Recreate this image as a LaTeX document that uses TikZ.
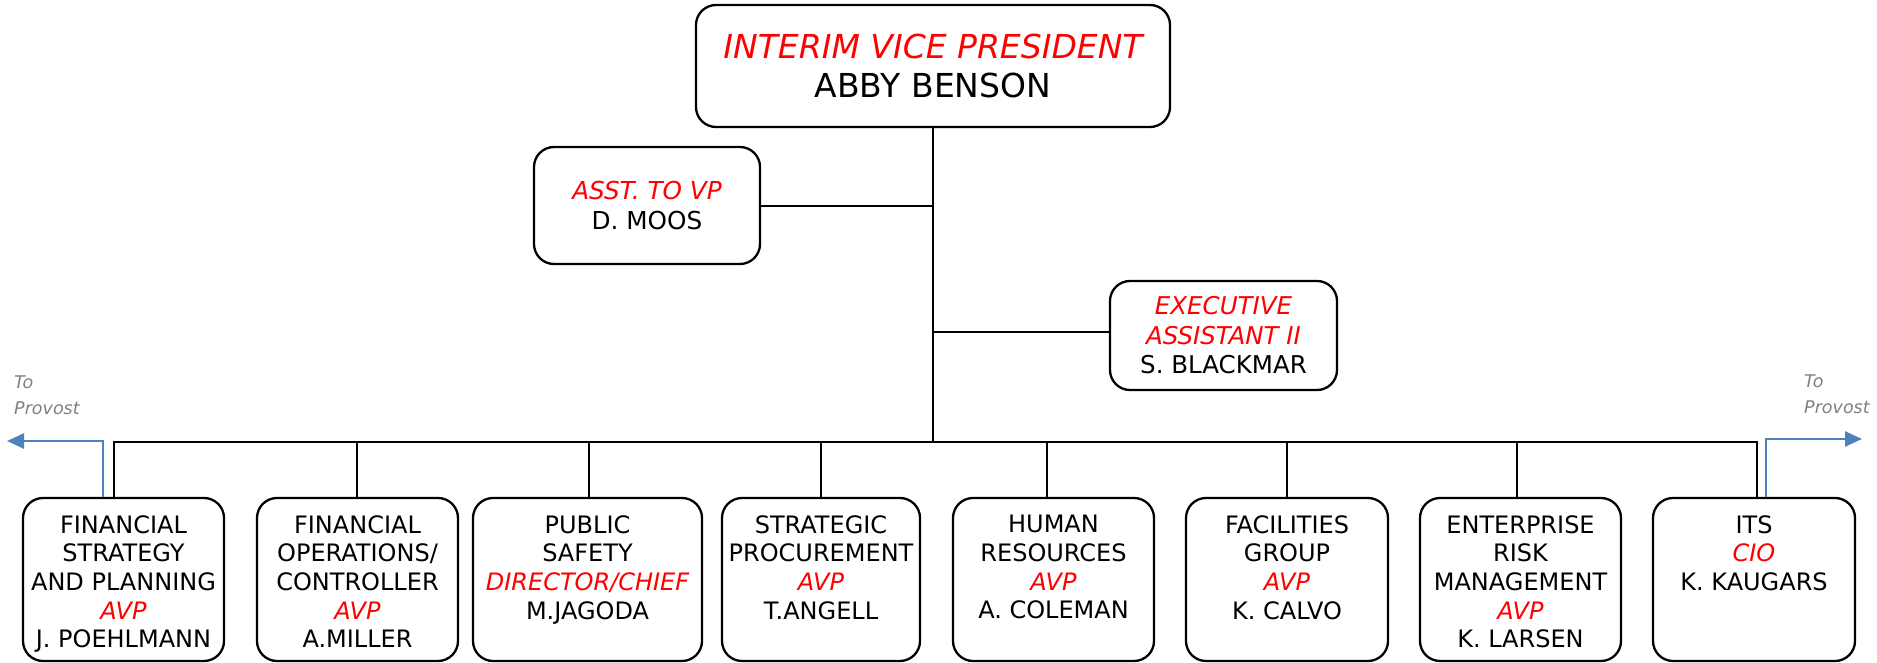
\documentclass[tikz,border=0pt]{standalone}
\usepackage{fontspec}
\setmainfont{DejaVu Sans}
\usetikzlibrary{arrows.meta}
\definecolor{provblue}{HTML}{4F81BD}
\definecolor{provgray}{HTML}{808080}
\newcommand\redit[1]{{\color{red}\itshape #1}}
\tikzset{
  box/.style={draw=black, line width=2.3pt, rounded corners=20pt, fill=white, inner sep=0pt, align=center},
  boxtxt/.style={anchor=north, inner sep=0pt, align=center, font=\fontsize{24}{28.7}\selectfont},
  link/.style={draw=black, line width=2.8pt},
  prov/.style={draw=provblue, line width=2.6pt, -{Triangle[length=17pt,width=15pt]}},
  provtxt/.style={anchor=north west, inner sep=0pt, align=left, text=provgray, font=\fontsize{17.5}{25.6}\selectfont\itshape},
}
\begin{document}
\begin{tikzpicture}[x=1pt,y=-1pt]
\useasboundingbox (0,0) rectangle (1877,663);
% top-level boxes
\node[box, minimum width=474pt, minimum height=122pt, font=\fontsize{33}{39.5}\selectfont] (vp) at (933,66) {\redit{INTERIM VICE PRESIDENT}\\ABBY BENSON};
\node[box, minimum width=226pt, minimum height=117pt, font=\fontsize{24.7}{30}\selectfont] (asst) at (647,205.5) {\redit{ASST. TO VP}\\D. MOOS};
\node[box, minimum width=227pt, minimum height=109pt, font=\fontsize{24.5}{29.5}\selectfont] (exec) at (1223.5,335.5) {\redit{EXECUTIVE}\\\redit{ASSISTANT II}\\S. BLACKMAR};
% bottom boxes
\node[box, minimum width=201pt, minimum height=163pt] (fsp) at (123.5,579.5) {};
\node[box, minimum width=201pt, minimum height=163pt] (foc) at (357.5,579.5) {};
\node[box, minimum width=229pt, minimum height=163pt] (ps) at (587.5,579.5) {};
\node[box, minimum width=198pt, minimum height=163pt] (sp) at (821,579.5) {};
\node[box, minimum width=201pt, minimum height=163pt] (hr) at (1053.5,579.5) {};
\node[box, minimum width=202pt, minimum height=163pt] (fg) at (1287,579.5) {};
\node[box, minimum width=201pt, minimum height=163pt] (erm) at (1520.5,579.5) {};
\node[box, minimum width=202pt, minimum height=163pt] (its) at (1754,579.5) {};
% bottom texts
\node[boxtxt] (tfsp) at (123.5,515) {FINANCIAL\\STRATEGY\\AND PLANNING\\\redit{AVP}\\J. POEHLMANN};
\node[boxtxt] (tfoc) at (357.5,515) {FINANCIAL\\OPERATIONS/\\CONTROLLER\\\redit{AVP}\\A.MILLER};
\node[boxtxt] (tps) at (587.5,515) {PUBLIC\\SAFETY\\\redit{DIRECTOR/CHIEF}\\M.JAGODA};
\node[boxtxt] (tsp) at (821,515) {STRATEGIC\\PROCUREMENT\\\redit{AVP}\\T.ANGELL};
\node[boxtxt] (thr) at (1053.5,515) {HUMAN\\RESOURCES\\\redit{AVP}\\A. COLEMAN};
\node[boxtxt] (tfg) at (1287,515) {FACILITIES\\GROUP\\\redit{AVP}\\K. CALVO};
\node[boxtxt] (term) at (1520.5,515) {ENTERPRISE\\RISK\\MANAGEMENT\\\redit{AVP}\\K. LARSEN};
\node[boxtxt] (tits) at (1754,515) {ITS\\\redit{CIO}\\K. KAUGARS};
% connector coordinates
\coordinate (j1) at (933,206);
\coordinate (j2) at (933,332);
\coordinate (bus) at (933,442);
\coordinate (d1) at (114,442);
\coordinate (d2) at (357,442);
\coordinate (d3) at (589,442);
\coordinate (d4) at (821,442);
\coordinate (d5) at (1047,442);
\coordinate (d6) at (1287,442);
\coordinate (d7) at (1517,442);
\coordinate (d8) at (1757,442);
% connectors
\draw[link] (vp.south) -- (bus);
\draw[link] (j1) -- (j1 -| asst.east);
\draw[link] (j2) -- (j2 -| exec.west);
\draw[link] (d1 |- fsp.north) -- (d1) -- (d8) -- (d8 |- its.north);
\draw[link] (d2) -- (d2 |- foc.north);
\draw[link] (d3) -- (d3 |- ps.north);
\draw[link] (d4) -- (d4 |- sp.north);
\draw[link] (d5) -- (d5 |- hr.north);
\draw[link] (d6) -- (d6 |- fg.north);
\draw[link] (d7) -- (d7 |- erm.north);
% to provost
\coordinate (pl) at (7,441);
\coordinate (pr) at (1862,439);
\draw[prov] ([xshift=-20.5pt]fsp.north) |- (pl);
\draw[prov] ([xshift=12pt]its.north) |- (pr);
\node[provtxt] (provl) at (14,376) {To\\Provost};
\node[provtxt] (provr) at (1804,375) {To\\Provost};
\end{tikzpicture}
\end{document}
